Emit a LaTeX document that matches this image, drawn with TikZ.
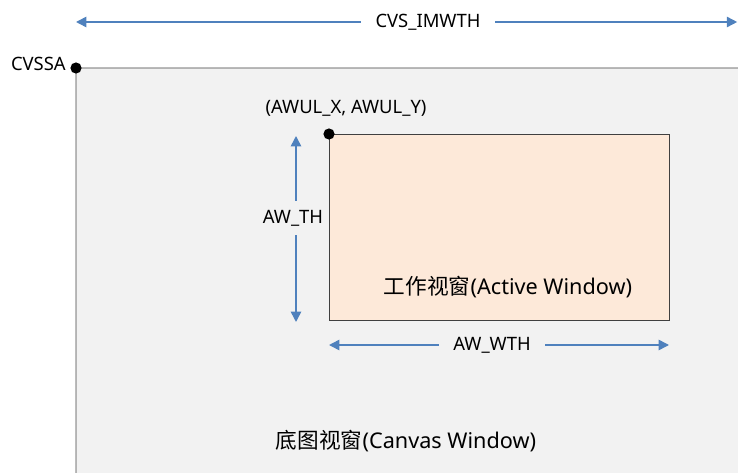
\documentclass[tikz,border=0pt]{standalone}
\usepackage{fontspec}
\setmainfont{Noto Sans}
\newfontfamily\cjk{Noto Sans CJK SC}
\usetikzlibrary{calc}
\usetikzlibrary{arrows.meta}

\definecolor{canvasgray}{HTML}{F2F2F2}
\definecolor{framegray}{HTML}{404040}
\definecolor{activepeach}{HTML}{FDE9D9}
\definecolor{dimblue}{HTML}{4F81BD}

\begin{document}
\begin{tikzpicture}[
		dimline/.style={draw=dimblue, line width=1.1pt, -{Triangle[length=0.26cm, width=0.26cm]}},
		dimlabel/.style={font=\fontsize{13.1}{15}\selectfont, inner xsep=0.36cm, inner ysep=0.1cm},
		title/.style={font=\fontsize{15.4}{17}\selectfont},
		corner/.style={circle, fill=black, inner sep=0pt, minimum size=0.28cm}
	]

		\def \xmax{18.45};
		\def \ymax{11.8};

		\useasboundingbox (0,0) rectangle (\xmax, \ymax);

		% canvas window
		\coordinate (cvssa) at (1.9, 10.1);
		\filldraw[fill=canvasgray, draw=framegray, line width=0.7pt] ($(cvssa)+(0,-10.5)$) -- (cvssa) -- (\xmax+0.5, 10.1) -- (\xmax+0.5, -0.5) -- cycle;
		\node[title, anchor=center] (canvastitle) at (10.15, 0.775) {{\cjk 底图视窗}(Canvas Window)};

		% active window
		\coordinate (awul) at (8.225, 8.45);
		\def \ladox{8.5};
		\def \ladoy{4.65};
		\filldraw[fill=activepeach, draw=framegray, line width=0.7pt] (awul) rectangle ($(awul)+(\ladox,-\ladoy)$);
		\node[title, anchor=center] (activetitle) at ($(awul)+(4.475,-3.825)$) {{\cjk 工作视窗}(Active Window)};

		% corner points
		\node[corner] (dotcvssa) at (cvssa) {};
		\node[corner] (dotawul) at (awul) {};
		\node[dimlabel, anchor=east, inner xsep=0.1cm] (cvssalabel) at ($(cvssa)+(-0.15,0.1)$) {CVSSA};
		\node[dimlabel, anchor=center] (awullabel) at ($(awul)+(0.425,0.65)$) {(AWUL\_X, AWUL\_Y)};

		% canvas width
		\coordinate (imwthleft) at (1.9, 11.25);
		\coordinate (imwthright) at (18.43, 11.25);
		\node[dimlabel] (imwth) at (10.7, 11.25) {CVS\_IMWTH};
		\draw[dimline] (imwth.west) -- (imwthleft);
		\draw[dimline] (imwth.east) -- (imwthright);

		% active window height
		\coordinate (thtop) at (7.4, 8.4);
		\coordinate (thbottom) at (7.4, 3.75);
		\node[dimlabel, inner xsep=0cm, inner ysep=0.22cm] (awth) at (7.325, 6.35) {AW\_TH};
		\draw[dimline] (awth.north -| thtop) -- (thtop);
		\draw[dimline] (awth.south -| thbottom) -- (thbottom);

		% active window width
		\coordinate (wthleft) at (8.225, 3.175);
		\coordinate (wthright) at (16.725, 3.175);
		\node[dimlabel] (awwth) at (12.3, 3.175) {AW\_WTH};
		\draw[dimline] (awwth.west) -- (wthleft);
		\draw[dimline] (awwth.east) -- (wthright);

	\end{tikzpicture}
\end{document}
